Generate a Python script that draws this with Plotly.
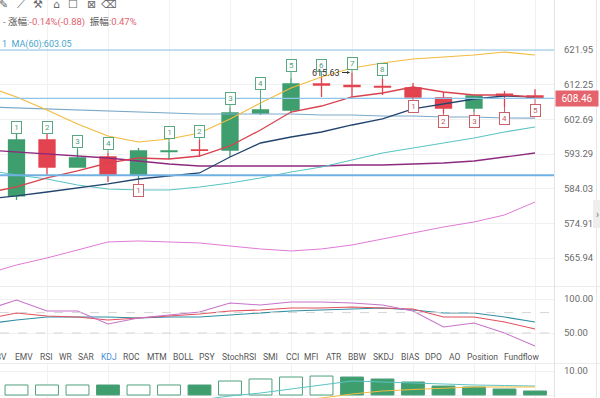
import math
import plotly.graph_objects as go

# ---------------- data ----------------
candle_idx = list(range(1, 19))
open_ = [582.10, 597.07, 589.80, 592.48, 587.67, 593.95, 594.37, 594.37, 604.43,
         605.25, 612.43, 612.01, 611.74, 611.32, 608.55, 605.80, 609.60, 609.11]
high = [598.97, 598.97, 594.37, 593.56, 594.91, 596.53, 597.07, 605.80, 606.63,
        614.10, 614.38, 615.63, 613.82, 612.71, 610.21, 609.11, 610.49, 611.00]
low = [581.04, 587.67, 589.80, 585.80, 586.30, 591.95, 592.48, 592.48, 603.88,
       604.43, 608.83, 608.83, 609.38, 608.83, 604.43, 604.70, 606.08, 608.14]
close = [597.07, 589.80, 592.22, 587.93, 594.10, 594.10, 594.24, 604.43, 605.25,
         612.43, 612.15, 611.74, 611.60, 608.83, 605.80, 609.11, 609.34, 608.46]

line_idx = list(range(0, 19))
boll_upper = [611.88, 608.83, 605.25, 601.42, 598.16, 596.53, 597.34, 598.97, 602.79, 607.18,
              611.32, 614.38, 616.89, 618.29, 619.42, 619.98, 620.54, 621.39, 620.54]
ma_red = [582.89, 584.48, 586.87, 588.74, 590.87, 592.22, 591.95, 592.75, 595.45, 599.79,
          604.70, 606.35, 608.83, 609.94, 611.60, 610.21, 609.38, 609.38, 608.83]
ma_navy = [581.30, 582.10, 583.15, 584.21, 585.28, 586.60, 587.40, 588.20, 592.48, 596.26,
           597.88, 599.24, 601.15, 602.79, 605.53, 606.90, 608.28, 609.11, 608.83]
ma_teal = [589.00, 587.67, 586.60, 585.01, 583.95, 583.68, 583.68, 584.48, 585.54, 586.87,
           588.47, 589.80, 591.68, 593.56, 594.91, 596.26, 597.61, 599.24, 600.60]
ma_purple = [594.37, 593.83, 593.29, 592.75, 592.22, 591.41, 590.61, 590.07, 590.07, 590.07,
             590.07, 590.07, 590.34, 590.34, 590.61, 590.87, 591.41, 592.48, 593.56]
ma60 = [606.08, 605.80, 605.53, 605.25, 604.98, 604.70, 604.43, 604.15, 604.15, 604.15,
        604.15, 603.88, 603.88, 603.61, 603.61, 603.33, 603.33, 603.06, 603.05]
ma_pink = [561.86, 564.16, 565.96, 568.01, 570.08, 570.34, 570.08, 569.82, 569.04, 568.27,
           567.76, 568.27, 569.30, 570.85, 572.41, 573.97, 575.27, 577.10, 580.51]
h_levels = [621.95, 587.60]
last_price = 608.46
max_label = 615.63
max_idx = 12

td_up_idx = [1, 2, 3, 4, 6, 7, 8, 9, 10, 11, 12, 13]
td_up_txt = ["1", "2", "3", "4", "1", "2", "3", "4", "5", "6", "7", "8"]
td_up_lvl = [600.33, 600.33, 596.53, 595.99, 598.97, 599.51, 608.28, 612.71, 617.73,
             617.73, 618.29, 616.61]
td_dn_idx = [5, 14, 15, 16, 17, 18]
td_dn_txt = ["1", "1", "2", "3", "4", "5"]
td_dn_lvl = [583.68, 606.08, 601.97, 601.97, 602.79, 604.98]

price_ticks = [565.94, 574.91, 584.03, 593.29, 602.69, 612.25, 621.95]

kdj_k = [70.6, 79.4, 75.0, 73.5, 69.1, 72.1, 75.0, 77.9, 82.4, 83.8,
         86.8, 86.8, 88.2, 86.8, 85.3, 73.5, 73.5, 66.2, 55.9]
kdj_d = [63.2, 69.1, 73.5, 73.5, 73.5, 72.1, 73.5, 73.5, 76.5, 79.4,
         82.4, 83.8, 85.3, 86.8, 83.8, 79.4, 79.4, 73.5, 66.2]
kdj_j = [83.8, 98.5, 82.4, 82.4, 63.2, 72.1, 76.5, 80.9, 94.1, 91.2,
         95.6, 95.6, 94.1, 91.2, 82.4, 58.8, 64.7, 50.0, 30.9]
kdj_levels = [80, 50]
kdj_ticks = [50, 100]

volume = [4.17, 4.17, 4.17, 4.17, 4.17, 4.17, 4.17, 5.83, 6.67, 7.5, 7.9, 7.5, 6.67,
          5.42, 3.75, 3.33, 2.5, 1.67]
vol_filled = [False, False, False, True, False, False, True, False, False, False, False,
              True, True, True, True, True, True, True]
vol_ma_a_idx = list(range(7, 19))
vol_ma_a = [-2.1, -0.4, 0.83, 2.5, 4.17, 5.83, 5.42, 5.0, 4.38, 4.17, 3.96, 3.75]
vol_ma_b_idx = list(range(10, 19))
vol_ma_b = [-2.5, -1.25, 0.42, 1.67, 2.29, 2.92, 3.33, 3.33, 3.33]
vol_ticks = [0, 10]

tabs = ["OBV", "EMV", "RSI", "WR", "SAR", "KDJ", "ROC", "MTM", "BOLL", "PSY", "StochRSI",
        "SMI", "CCI", "MFI", "ATR", "BBW", "SKDJ", "BIAS", "DPO", "AO", "Position", "Fundflow"]
active_tab = "KDJ"
toolbar_icons = ["✎", "⟋", "⚒", "⌂", "☐", "⊠", "⌫"]

# ---------------- layout helpers ----------------
W, H = 600, 398
PLOT_R = 554          # right edge of plotting area (px)
tab_centers = [0, 24, 46, 66, 86, 109, 131, 157, 183, 207, 239, 270, 292, 311, 334, 357,
               383, 410, 433, 454, 482, 521]
icon_centers = [3, 21, 38, 56, 73, 91, 109]


def py(p):  # pixel y -> paper y
    return 1 - p / H


def px(p):
    return p / W


GREEN = "#3f9e6e"
RED = "#e2434f"
FONT = "Roboto, 'Noto Sans CJK SC', sans-serif"
GRID = "#f1f1f1"

fig = go.Figure()

fig.add_trace(go.Candlestick(
    x=candle_idx, open=open_, high=high, low=low, close=close,
    increasing=dict(line=dict(color=GREEN, width=1.3), fillcolor=GREEN),
    decreasing=dict(line=dict(color=RED, width=1.3), fillcolor=RED),
    whiskerwidth=0, showlegend=False, hoverinfo="skip", xaxis="x", yaxis="y"))

for vals, col, w in [(ma_pink, "#e07ad6", 1), (ma60, "#7aa9c9", 1.2), (ma_purple, "#8e2a7e", 1.3),
                     (ma_teal, "#5cc4c4", 1.1), (ma_navy, "#23446e", 1.3),
                     (ma_red, "#d8434f", 1.3), (boll_upper, "#f2bb3f", 1.2)]:
    fig.add_trace(go.Scatter(x=line_idx, y=vals, mode="lines", line=dict(color=col, width=w),
                             showlegend=False, hoverinfo="skip", xaxis="x", yaxis="y"))

# KDJ pane
for vals, col in [(kdj_d, "#2f8ea3"), (kdj_k, "#e0505e"), (kdj_j, "#c774c9")]:
    fig.add_trace(go.Scatter(x=line_idx, y=vals, mode="lines", line=dict(color=col, width=1.1),
                             showlegend=False, hoverinfo="skip", xaxis="x2", yaxis="y2"))

# volume pane
fig.add_trace(go.Bar(
    x=candle_idx, y=volume,
    marker=dict(color=[GREEN if f else "white" for f in vol_filled],
                line=dict(color="#4fa07c", width=1)),
    showlegend=False, hoverinfo="skip", xaxis="x3", yaxis="y3"))
fig.add_trace(go.Scatter(x=vol_ma_a_idx, y=vol_ma_a, mode="lines",
                         line=dict(color="#5cc4c4", width=1), showlegend=False,
                         hoverinfo="skip", xaxis="x3", yaxis="y3"))
fig.add_trace(go.Scatter(x=vol_ma_b_idx, y=vol_ma_b, mode="lines",
                         line=dict(color="#f2bb3f", width=1), showlegend=False,
                         hoverinfo="skip", xaxis="x3", yaxis="y3"))

# axes ranges (px geometry of the panes)
main_top, main_bot = 0, 286
ind_top, ind_bot = 287, 352
vol_top, vol_bot = 364, 398
log_at_50 = math.log10(621.95)
px_per_log = 5076.0
main_range = [log_at_50 - (main_bot - 50) / px_per_log, log_at_50 + (50 - main_top) / px_per_log]
ind_range = [100 - (ind_bot - 299) * 50 / 34, 100 + (299 - ind_top) * 50 / 34]
vol_range = [-(vol_bot - 395) / 2.4, (395 - vol_top) / 2.4]

x_left = 1 - 16.5 / 30.5
x_right = 1 + (PLOT_R - 16.5) / 30.5
xdom = [0, px(PLOT_R)]
xcommon = dict(range=[x_left, x_right], showticklabels=False, tickvals=list(range(2, 19, 2)),
               showgrid=True, gridcolor=GRID, zeroline=False, showline=False, ticks="",
               fixedrange=True)
ycommon = dict(side="right", showgrid=True, gridcolor=GRID, zeroline=False, showline=False,
               ticks="", tickfont=dict(family=FONT, size=9.5, color="#6b6b6b"),
               ticklabelstandoff=9, fixedrange=True)

fig.update_layout(
    width=W, height=H, margin=dict(l=0, r=0, t=0, b=0),
    paper_bgcolor="white", plot_bgcolor="white", boxgap=0.25, bargap=0.25,
    showlegend=False,
    xaxis=dict(domain=xdom, anchor="y", rangeslider=dict(visible=False), **xcommon),
    xaxis2=dict(domain=xdom, anchor="y2", matches="x", **xcommon),
    xaxis3=dict(domain=xdom, anchor="y3", matches="x", **xcommon),
    yaxis=dict(domain=[py(main_bot), py(main_top)], anchor="x", type="log", range=main_range,
               tickmode="array", tickvals=price_ticks,
               ticktext=[f"{v:.2f}" for v in price_ticks], **ycommon),
    yaxis2=dict(domain=[py(ind_bot), py(ind_top)], anchor="x2", range=ind_range,
                tickmode="array", tickvals=kdj_ticks,
                ticktext=[f"{v:.2f}" for v in kdj_ticks], **ycommon),
    yaxis3=dict(domain=[py(vol_bot), py(vol_top)], anchor="x3", range=vol_range,
                tickmode="array", tickvals=vol_ticks,
                ticktext=[f"{v:.2f}" for v in vol_ticks], **ycommon),
)

shapes = []
# horizontal drawn levels
for lv in h_levels:
    shapes.append(dict(type="line", xref="paper", yref="y", x0=0, x1=px(PLOT_R), y0=lv, y1=lv,
                       line=dict(color="#6fb0e2" if lv < 600 else "#8cc4ea",
                                 width=2 if lv < 600 else 1.2)))
shapes.append(dict(type="line", xref="paper", yref="y", x0=0, x1=px(PLOT_R), y0=last_price,
                   y1=last_price, line=dict(color="#8cc4ea", width=1.2)))
for lv in kdj_levels:
    shapes.append(dict(type="line", xref="paper", yref="y2", x0=0, x1=px(PLOT_R), y0=lv, y1=lv,
                       line=dict(color="#d6d6d6", width=1, dash="dash")))
# pane separators and right axis border
for sep in [286.5, 363.5]:
    shapes.append(dict(type="line", xref="paper", yref="paper", x0=0, x1=1, y0=py(sep),
                       y1=py(sep), line=dict(color="#ececec", width=1)))
shapes.append(dict(type="line", xref="paper", yref="paper", x0=px(PLOT_R + 0.5),
                   x1=px(PLOT_R + 0.5), y0=0, y1=1, line=dict(color="#e3e3e3", width=1)))
shapes.append(dict(type="line", xref="paper", yref="paper", x0=px(596.5), x1=px(596.5),
                   y0=0, y1=1, line=dict(color="#e6e6e6", width=1)))
shapes.append(dict(type="rect", xref="paper", yref="paper", x0=px(593), x1=px(600),
                   y0=py(228), y1=py(200), line=dict(width=0), fillcolor="#eeeeee"))
fig.update_layout(shapes=shapes)

ann = []
# TD sequential markers
for i, t, lv in zip(td_up_idx, td_up_txt, td_up_lvl):
    ann.append(dict(x=i, y=math.log10(high[i - 1]), xref="x", yref="y", text=t,
                    showarrow=True, arrowhead=0, arrowwidth=1, arrowcolor="#5aa882",
                    ax=0, ayref="y", ay=math.log10(lv), font=dict(family=FONT, size=8, color="#4f9f79"),
                    bordercolor="#5aa882", borderwidth=1, borderpad=1, bgcolor="white",
                    width=7, standoff=0))
for i, t, lv in zip(td_dn_idx, td_dn_txt, td_dn_lvl):
    ann.append(dict(x=i, y=math.log10(low[i - 1]), xref="x", yref="y", text=t,
                    showarrow=True, arrowhead=0, arrowwidth=1, arrowcolor="#c9606a",
                    ax=0, ayref="y", ay=math.log10(lv), font=dict(family=FONT, size=8, color="#c25a64"),
                    bordercolor="#c9606a", borderwidth=1, borderpad=1, bgcolor="white",
                    width=7, standoff=0))
# max label
ann.append(dict(x=max_idx, y=math.log10(max_label), xref="x", yref="y",
                text=f"{max_label:.2f}", showarrow=True, arrowhead=2, arrowsize=0.6,
                arrowwidth=1, arrowcolor="#333", ax=-10, ay=0, xanchor="right",
                font=dict(family=FONT, size=9, color="#333"), standoff=2))
# last price tag
ann.append(dict(x=px(555), y=math.log10(last_price), xref="paper", yref="y",
                text=f"{last_price:.2f}", showarrow=False, xanchor="left",
                font=dict(family=FONT, size=10, color="white"), bgcolor="#e5636c",
                borderpad=3, width=36, height=9))
# header texts
ann.append(dict(x=px(1), y=py(22), xref="paper", yref="paper", xanchor="left", yanchor="middle",
                showarrow=False,
                text="<span style='color:#777'>-</span> <span style='color:#555'>涨幅</span>"
                     "<span style='color:#e0636f'>:-0.14%(-0.88)</span>  "
                     "<span style='color:#555'>振幅</span><span style='color:#e0636f'>:0.47%</span>",
                font=dict(family=FONT, size=9.5)))
ann.append(dict(x=px(0), y=py(45), xref="paper", yref="paper", xanchor="left", yanchor="middle",
                showarrow=False,
                text="1  MA(60):603.05", font=dict(family=FONT, size=9, color="#48a6cc")))
for ic, cx in zip(toolbar_icons, icon_centers):
    ann.append(dict(x=px(cx), y=py(4), xref="paper", yref="paper", xanchor="center",
                    yanchor="middle", showarrow=False, text=ic,
                    font=dict(family="DejaVu Sans", size=11, color="#666")))
ann.append(dict(x=px(597), y=py(214), xref="paper", yref="paper", xanchor="center",
                yanchor="middle", showarrow=False, text="›",
                font=dict(family=FONT, size=10, color="#777")))
# indicator tabs
for name, cx in zip(tabs, tab_centers):
    ann.append(dict(x=px(cx), y=py(357), xref="paper", yref="paper", showarrow=False,
                    xanchor="right" if cx == 0 else "center", yanchor="middle", text=name,
                    xshift=9 if cx == 0 else 0,
                    font=dict(family=FONT, size=8.5,
                              color="#4a8fd6" if name == active_tab else "#555")))
fig.update_layout(annotations=ann)

fig.write_html("out.html", config={"displayModeBar": False},
               post_script="document.body.style.margin='0';")
